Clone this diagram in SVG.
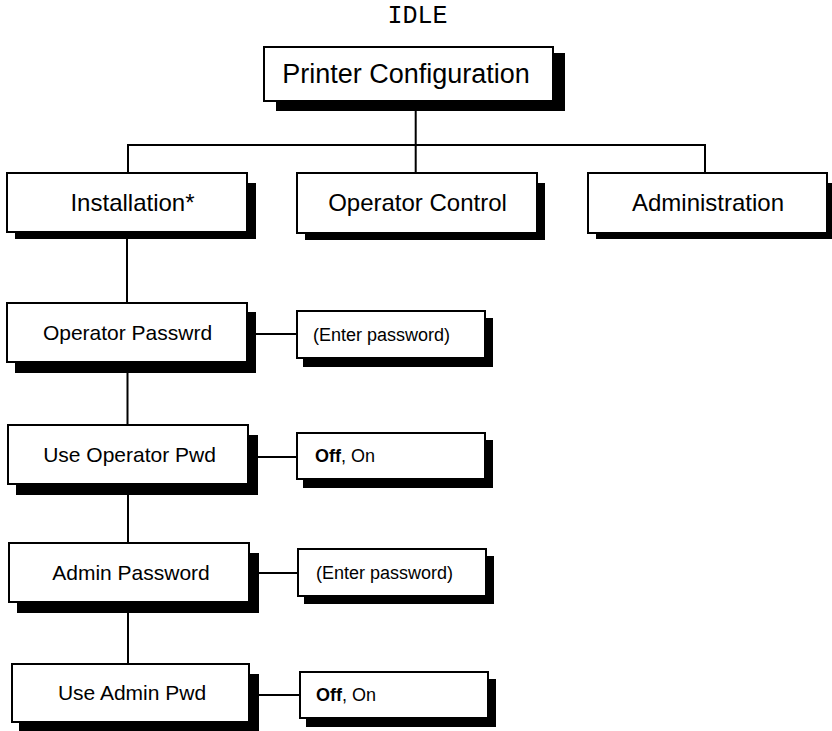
<svg xmlns="http://www.w3.org/2000/svg" width="832" height="731" viewBox="0 0 832 731">
<style>
.bx{fill:#fff;stroke:#000;stroke-width:2}
.sh{fill:#000}
.t{font-family:"Liberation Sans",Arial,sans-serif;fill:#000}
.c{text-anchor:middle}
.cn{stroke:#000;stroke-width:2;fill:none}
</style>
<rect width="832" height="731" fill="#fff"/>
<text x="417.5" y="23" font-family="Liberation Mono,Courier New,monospace" font-size="25" text-anchor="middle">IDLE</text>
<g id="connectors">
<path class="cn" d="M415.7 101V145M128 173V145H705V173M415.7 145V173"/>
<path class="cn" d="M127 232V303M127.5 362V425M128 484V543M128 602V664"/>
<path class="cn" d="M247 334H297M248 457H297M249 573H298M249 695H300"/>
</g>
<g id="printer-configuration">
<rect class="sh" x="276" y="53" width="289" height="58"/>
<rect class="bx" x="264" y="47" width="289" height="54"/>
<text class="t c" x="406" y="83" font-size="27">Printer Configuration</text>
</g>
<g id="installation">
<rect class="sh" x="15" y="183" width="241" height="56"/>
<rect class="bx" x="7" y="173" width="240" height="59"/>
<text class="t c" x="132.5" y="211" font-size="24">Installation*</text>
</g>
<g id="operator-control">
<rect class="sh" x="305" y="183" width="240" height="57"/>
<rect class="bx" x="297" y="173" width="240" height="60"/>
<text class="t c" x="417.5" y="211" font-size="24">Operator Control</text>
</g>
<g id="administration">
<rect class="sh" x="596" y="183" width="236" height="56"/>
<rect class="bx" x="588" y="173" width="239" height="60"/>
<text class="t c" x="708" y="211" font-size="24">Administration</text>
</g>
<g id="operator-passwrd">
<rect class="sh" x="15" y="312" width="241" height="61"/>
<rect class="bx" x="7" y="303" width="240" height="59"/>
<text class="t c" x="127.5" y="340" font-size="21">Operator Passwrd</text>
</g>
<g id="enter-password-1">
<rect class="sh" x="303" y="318" width="190" height="49"/>
<rect class="bx" x="297" y="311" width="188" height="47"/>
<text class="t" x="313" y="341" font-size="18">(Enter password)</text>
</g>
<g id="use-operator-pwd">
<rect class="sh" x="16" y="435" width="242" height="60"/>
<rect class="bx" x="8" y="425" width="240" height="59"/>
<text class="t c" x="129.5" y="462" font-size="21">Use Operator Pwd</text>
</g>
<g id="off-on-1">
<rect class="sh" x="303" y="440" width="190" height="48"/>
<rect class="bx" x="297" y="433" width="188" height="46"/>
<text class="t" x="315" y="462" font-size="18"><tspan font-weight="bold">Off</tspan>, On</text>
</g>
<g id="admin-password">
<rect class="sh" x="17" y="553" width="242" height="60"/>
<rect class="bx" x="9" y="543" width="240" height="59"/>
<text class="t c" x="131" y="580" font-size="21">Admin Password</text>
</g>
<g id="enter-password-2">
<rect class="sh" x="304" y="556" width="190" height="48"/>
<rect class="bx" x="298" y="549" width="188" height="47"/>
<text class="t" x="316" y="579" font-size="18">(Enter password)</text>
</g>
<g id="use-admin-pwd">
<rect class="sh" x="19" y="674" width="240" height="57"/>
<rect class="bx" x="12" y="664" width="237" height="58"/>
<text class="t c" x="132" y="700" font-size="21">Use Admin Pwd</text>
</g>
<g id="off-on-2">
<rect class="sh" x="306" y="679" width="190" height="48"/>
<rect class="bx" x="300" y="672" width="188" height="46"/>
<text class="t" x="316" y="701" font-size="18"><tspan font-weight="bold">Off</tspan>, On</text>
</g>
</svg>
